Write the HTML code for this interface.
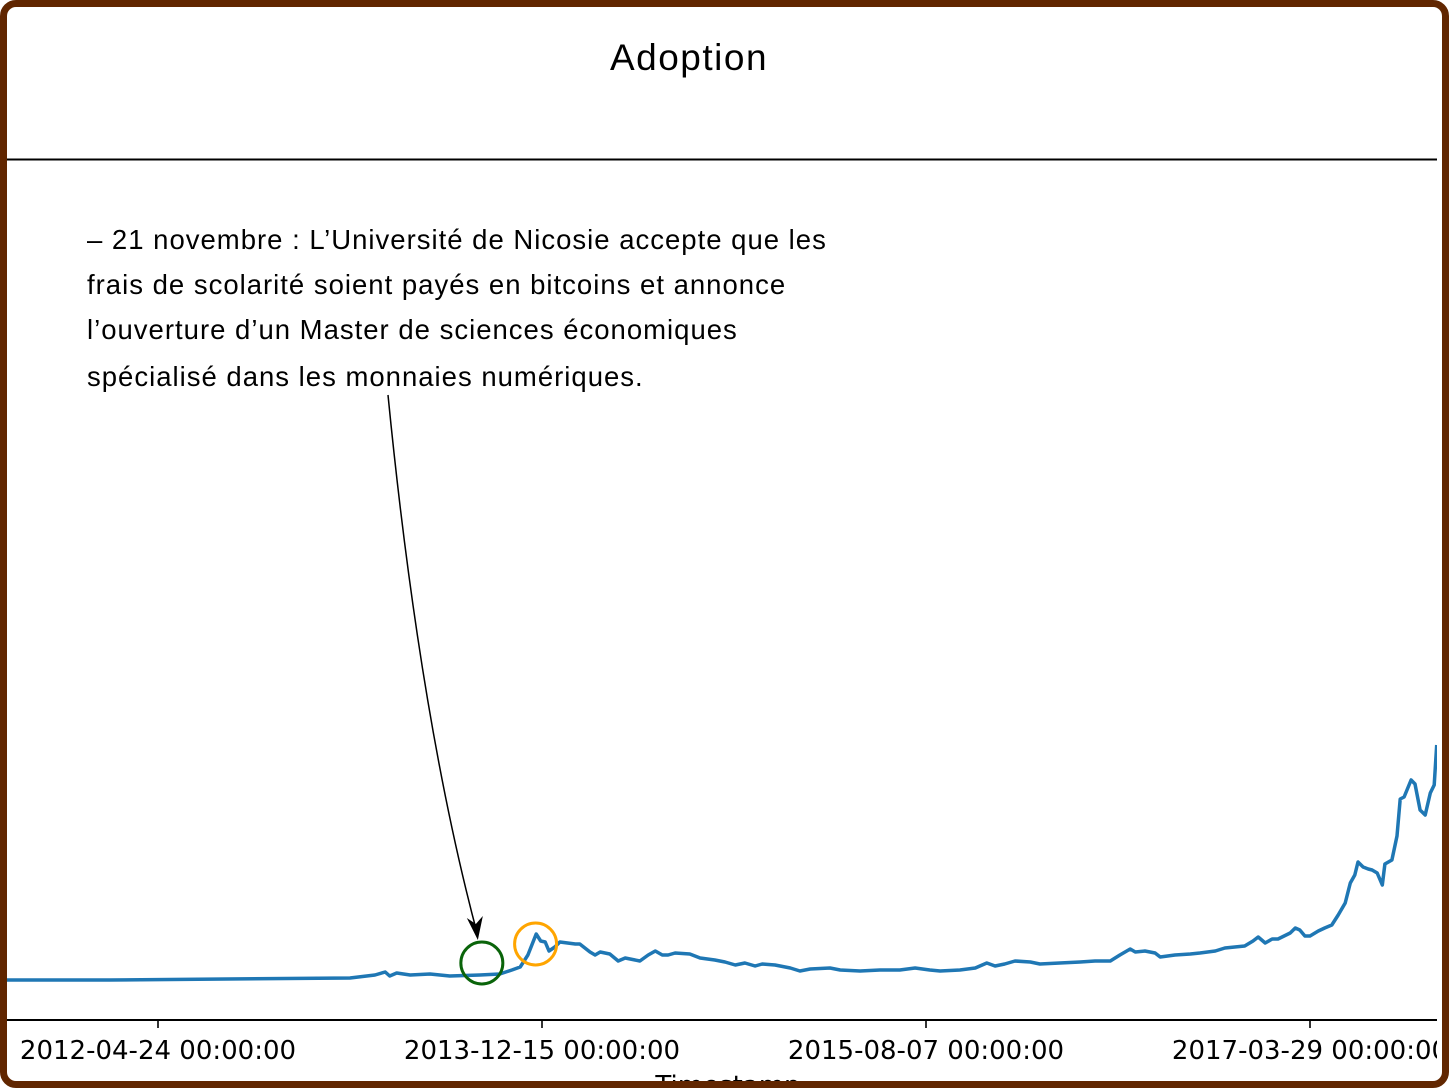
<!DOCTYPE html>
<html><head><meta charset="utf-8"><style>
html,body{margin:0;padding:0;background:#fff;}
svg{position:absolute;left:0;top:0;}
</style></head><body>
<svg id="chart" width="1449" height="1088">
<rect x="0" y="0" width="1449" height="1088" fill="#fff"/>
<text x="689" y="70" text-anchor="middle" font-family="Liberation Sans, sans-serif" font-size="37" letter-spacing="1.5" fill="#000">Adoption</text>
<line x1="7" y1="159.5" x2="1437" y2="159.5" stroke="#000" stroke-width="2"/>
<g font-family="Liberation Sans, sans-serif" font-size="27.5" letter-spacing="1" fill="#000">
<text x="87" y="249">– 21 novembre : L’Université de Nicosie accepte que les</text>
<text x="87" y="294">frais de scolarité soient payés en bitcoins et annonce</text>
<text x="87" y="339">l’ouverture d’un Master de sciences économiques</text>
<text x="87" y="386">spécialisé dans les monnaies numériques.</text>
</g>
<g id="plot"></g>
<line x1="7" y1="1020" x2="1437" y2="1020" stroke="#000" stroke-width="2"/>
<g id="ticks"></g>
<text x="728" y="1094" text-anchor="middle" font-family="DejaVu Sans, sans-serif" font-size="26" fill="#000">Timestamp</text>
</svg>
<script>
// days since 2012-04-24
const days = [-236,-75,300,339,355,362,373,394,425,456,503,534,553,566,578,591,598,605,611,620,628,652,659,675,683,691,706,719,730,753,766,777,788,797,808,831,847,870,886,902,917,933,944,964,988,1003,1019,1050,1066,1097,1128,1159,1183,1206,1222,1253,1277,1295,1308,1323,1339,1363,1378,1409,1441,1464,1488,1503,1519,1527,1542,1558,1566,1589,1613,1628,1652,1667,1698,1711,1719,1730,1741,1750,1769,1777,1784,1792,1800,1813,1823,1834,1844,1855,1863,1870,1875,1883,1891,1897,1905,1913,1917,1928,1936,1941,1947,1958,1964,1972,1980,1988,1994,1998];
const values = [0,0,2,5,8,4,7,5,6,4,5,6,10,13,25,46,39,38,29,33,38,36,36,28,25,28,26,19,22,19,25,29,25,25,27,26,22,20,18,15,17,14,16,15,12,9,11,12,10,9,10,10,12,10,9,10,12,17,14,16,19,18,16,17,18,19,19,25,31,28,29,27,23,25,26,27,29,32,34,39,43,37,41,41,47,52,50,44,44,49,52,55,65,77,97,105,118,113,111,110,107,95,116,120,144,181,183,200,196,170,165,187,195,235];
const tickDays = [0,600,1200,1800];
const tickLabels = ["2012-04-24 00:00:00","2013-12-15 00:00:00","2015-08-07 00:00:00","2017-03-29 00:00:00"];
const annotDay = 506, annotVal = 17, markerDay = 590, markerVal = 36;

const xs = d => 158 + d * 0.64;
const ys = v => 980 - v;
const NS = "http://www.w3.org/2000/svg";
const plot = document.getElementById('plot');
const n = Math.min(days.length, values.length);
let d = '';
for (let i = 0; i < n; i++) d += (i ? 'L' : 'M') + xs(days[i]).toFixed(1) + ',' + ys(values[i]).toFixed(1) + ' ';
const path = document.createElementNS(NS,'path');
path.setAttribute('d', d);
path.setAttribute('fill','none');path.setAttribute('stroke','#1f77b4');path.setAttribute('stroke-width','3.5');path.setAttribute('stroke-linejoin','round');


plot.appendChild(path);

const gx = xs(annotDay), gy = ys(annotVal);
const c1 = document.createElementNS(NS,'circle');
c1.setAttribute('cx',gx);c1.setAttribute('cy',gy);c1.setAttribute('r',21);
c1.setAttribute('fill','none');c1.setAttribute('stroke','#0a640a');c1.setAttribute('stroke-width','3');


plot.appendChild(c1);
const c2 = document.createElementNS(NS,'circle');
c2.setAttribute('cx',xs(markerDay));c2.setAttribute('cy',ys(markerVal));c2.setAttribute('r',21);
c2.setAttribute('fill','none');c2.setAttribute('stroke','#ffa500');c2.setAttribute('stroke-width','3');


plot.appendChild(c2);

const ax = gx - 4, ay = gy - 23;
const arrow = document.createElementNS(NS,'path');
arrow.setAttribute('d',`M388,395 Q420,720 ${ax},${ay-4}`);
arrow.setAttribute('fill','none');arrow.setAttribute('stroke','#000');arrow.setAttribute('stroke-width','1.5');


plot.appendChild(arrow);
const head = document.createElementNS(NS,'path');
head.setAttribute('d',`M${ax},${ay} L${ax-11},${ay-22} L${ax-2},${ay-16} L${ax+5},${ay-24} Z`);
head.setAttribute('fill','#000');


plot.appendChild(head);

const tg = document.getElementById('ticks');
tickDays.forEach((t,i)=>{
  const x = xs(t);
  const l = document.createElementNS(NS,'line');
  l.setAttribute('x1',x);l.setAttribute('x2',x);l.setAttribute('y1',1020);l.setAttribute('y2',1028);
  l.setAttribute('stroke','#000');l.setAttribute('stroke-width','1.6');
  
  
  tg.appendChild(l);
  const tx = document.createElementNS(NS,'text');
  tx.setAttribute('x',x);tx.setAttribute('y',1059);tx.setAttribute('text-anchor','middle');
  tx.setAttribute('font-family','DejaVu Sans, sans-serif');tx.setAttribute('font-size','26');
  tx.textContent = tickLabels[i];
  
  
  tg.appendChild(tx);
});
const clip = document.createElementNS(NS,'rect');
clip.setAttribute('x',1437);clip.setAttribute('y',0);clip.setAttribute('width',12);clip.setAttribute('height',1088);clip.setAttribute('fill','#fff');


document.getElementById('chart').appendChild(clip);
</script>
<div style="position:absolute;left:0;top:0;width:1449px;height:1088px;box-sizing:border-box;border:7px solid #612600;border-radius:16px;pointer-events:none;"></div>
</body></html>
